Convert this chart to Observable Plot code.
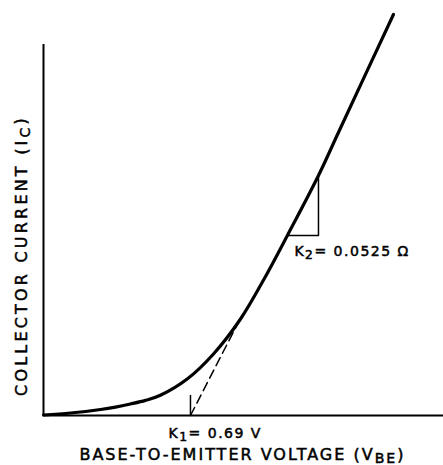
<!DOCTYPE html>
<html>
<head>
<meta charset="utf-8">
<script src="https://cdn.jsdelivr.net/npm/d3@7"></script>
<script src="https://cdn.jsdelivr.net/npm/@observablehq/plot@0.6"></script>
<style>
  html, body { margin: 0; padding: 0; background: #fff; }
  #chart svg { display: block; }
</style>
</head>
<body>
<div id="chart"></div>
<script>
// Collector current curve (V_BE in volts, I_C in arbitrary units 0..100)
const vbe = [0.0, 0.127, 0.268, 0.338, 0.408, 0.479, 0.549, 0.676, 0.798, 0.925, 1.037, 1.145, 1.291, 1.389, 1.643];
const ic  = [0.12, 0.62, 1.50, 2.1, 2.87, 3.77, 5.04, 9.15, 15.34, 24.06, 34.16, 44.89, 59.85, 71.07, 100];

// Tangent (dashed) from K1 intercept up to the curve
const tangentV = [0.69, 0.929];
const tangentI = [0, 24.7];

// K1 tick
const k1 = 0.69;
const k1TickTop = 5;

// Slope triangle for K2
const triV = [1.145, 1.291, 1.291];
const triI = [44.9, 44.9, 59.85];

// Axis extents
const xMax = 1.878;
const yTop = 92.5;

// Labels
const labelX = "BASE-TO-EMITTER VOLTAGE (V_{BE})";
const labelY = "COLLECTOR CURRENT (I_{C})";
const labelK1 = "K_{1}= 0.69 V";
const labelK2 = "K_{2}= 0.0525 Ω";

const curve = vbe.map((v, i) => ({v, i: ic[i]}));
const tangent = tangentV.map((v, i) => ({v, i: tangentI[i]}));
const tri = triV.map((v, i) => ({v, i: triI[i]}));

const font = "DejaVu Sans";

const plot = Plot.plot({
  width: 443,
  height: 465,
  marginLeft: 43,
  marginRight: 0,
  marginTop: 14,
  marginBottom: 50,
  x: {domain: [0, xMax], axis: null},
  y: {domain: [0, 100], axis: null},
  style: {fontFamily: font, background: "#fff", color: "#000"},
  marks: [
    Plot.ruleX([0], {y1: 0, y2: yTop, stroke: "#000", strokeWidth: 2}),
    Plot.ruleY([0], {x1: 0, x2: xMax, stroke: "#000", strokeWidth: 2}),
    Plot.ruleX([k1], {y1: 0, y2: k1TickTop, stroke: "#000", strokeWidth: 1.5}),
    Plot.line(tangent, {x: "v", y: "i", stroke: "#000", strokeWidth: 1.5, strokeDasharray: "9,5"}),
    Plot.line(tri, {x: "v", y: "i", stroke: "#000", strokeWidth: 1.5}),
    Plot.line(curve, {x: "v", y: "i", stroke: "#000", strokeWidth: 3.2, curve: "catmull-rom"}),
    Plot.text([labelX], {x: 0.934, y: -9.8, text: d => d, fontSize: 16, fill: "#000", textAnchor: "middle"}),
    Plot.text([labelK1], {x: k1 - 0.103, y: -4.5, text: d => d, fontSize: 14, fill: "#000", textAnchor: "start", className: "klabel"}),
    Plot.text([labelK2], {x: 1.178, y: 40.8, text: d => d, fontSize: 14, fill: "#000", textAnchor: "start", className: "klabel"}),
    Plot.text([labelY], {x: -0.103, y: 39.9, text: d => d, fontSize: 16, fill: "#000", rotate: -90, textAnchor: "middle", className: "ylabel"})
  ]
});

// Turn "_{...}" markers into subscript tspans
plot.querySelectorAll("text").forEach(t => {
  const s = t.textContent;
  if (!s.includes("_{")) return;
  const parts = s.split(/_\{([^}]*)\}/);
  while (t.firstChild) t.removeChild(t.firstChild);
  const ns = "http://www.w3.org/2000/svg";
  parts.forEach((p, k) => {
    if (p === "") return;
    const ts = document.createElementNS(ns, "tspan");
    ts.textContent = p;
    if (k % 2 === 1) {
      ts.setAttribute("dy", "0.22em");
      ts.setAttribute("font-size", "88%");
    } else if (k > 0) {
      ts.setAttribute("dy", "-0.22em");
    }
    t.appendChild(ts);
  });
});

plot.querySelectorAll("text").forEach(t => {
  t.setAttribute("letter-spacing", "2");
  t.setAttribute("stroke", "#000");
  t.setAttribute("stroke-width", "0.5");
});
plot.querySelectorAll(".klabel text").forEach(t => t.setAttribute("letter-spacing", "1.5"));
plot.querySelectorAll(".ylabel text").forEach(t => t.setAttribute("letter-spacing", "3.2"));

document.getElementById("chart").appendChild(plot);
</script>
</body>
</html>
